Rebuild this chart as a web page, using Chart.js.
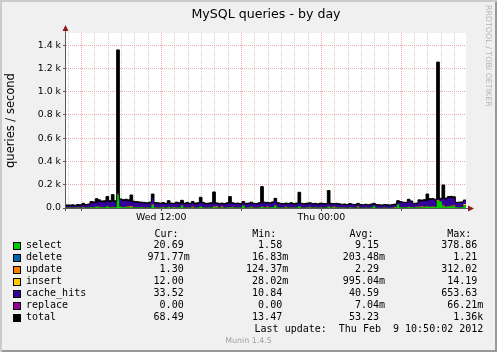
<!DOCTYPE html>
<html><head><meta charset="utf-8">
<script src="https://cdn.jsdelivr.net/npm/chart.js@4.4.1/dist/chart.umd.min.js"></script>
<style>
html,body{margin:0;padding:0;background:#f0f0f0;}
#wrap{position:relative;width:497px;height:352px;background:#f0f0f0;box-shadow:inset 2px 2px 0 #cbcbcb, inset -2px -2px 0 #999999;overflow:hidden;}
#c{position:absolute;left:0;top:0;}
.t{position:absolute;font-family:"DejaVu Sans Mono",monospace;font-size:10px;line-height:12px;white-space:pre;color:#000;}
.sq{position:absolute;width:8px;height:8px;box-sizing:border-box;border:1px solid #000;}
.rrd{position:absolute;left:482.5px;top:5px;font-family:"DejaVu Sans",sans-serif;font-size:7.9px;line-height:10px;color:#b4b4b4;writing-mode:vertical-rl;white-space:nowrap;}
.munin{position:absolute;left:0;width:497px;top:335.9px;text-align:center;font-family:"DejaVu Sans",sans-serif;font-size:7.9px;line-height:10px;color:#a0a0a0;}
</style>
</head><body>
<div id="wrap">
<canvas id="c" width="497" height="352"></canvas>
<div class="rrd">RRDTOOL / TOBI OETIKER</div>
<div class="munin">Munin 1.4.5</div>
</div>
<script>
// ---- data (hours since Wed 00:00, 12-minute samples) ----
const firstSampleHour = 4.85;
const sampleStepHours = 0.2;

const totalQ = [26,25,27,24,30,28,40,30,34,55,
 52,80,70,60,62,98,63,115,62,1360,
 78,72,75,70,112,58,55,52,50,48,
 45,50,120,48,45,42,46,40,63,42,
 40,50,45,66,42,48,40,55,42,45,
 92,48,40,42,45,138,44,40,42,38,
 45,98,45,40,42,38,55,40,42,50,
 40,38,45,184,50,48,45,52,83,45,
 40,38,42,40,45,38,42,135,40,38,
 42,45,38,40,36,42,40,38,150,40,
 38,40,36,32,34,30,38,32,30,40,
 30,28,32,28,34,40,30,28,26,30,
 28,26,30,34,63,55,50,48,75,60,
 40,42,70,68,72,120,80,82,75,1255,
 83,198,85,98,100,96,49,50,52,68.49];

const selectQ = [3,2,3,2,4,3,5,3,4,6,
 5,8,6,5,6,12,5,7,6,115,
 10,6,8,5,9,4,5,4,6,3,
 4,3,26,4,3,5,4,3,8,4,
 3,5,4,18,3,4,3,5,3,4,
 12,4,3,4,3,10,4,3,5,3,
 4,6,4,3,4,3,22,3,4,5,
 3,3,4,8,4,5,4,6,20,4,
 3,3,4,3,4,3,4,12,3,3,
 4,5,3,4,3,4,3,3,10,4,
 3,4,3,2,3,2,4,3,2,5,
 2,2,3,2,3,15,2,2,2,3,
 2,2,3,3,30,6,5,4,8,6,
 4,4,7,6,8,12,8,9,8,60,
 55,12,10,12,14,12,6,5,6,20.69];

const deleteQ = [0.1,0.1,0.1,0.1,0.2,0.1,0.2,0.1,0.2,0.3,
 0.3,0.4,0.3,0.3,0.3,0.4,0.3,0.3,0.3,1.2,
 0.3,0.2,0.3,0.2,0.3,0.2,0.2,0.2,0.2,0.2,
 0.2,0.2,0.3,0.2,0.2,0.2,0.2,0.2,0.2,0.2,
 0.2,0.2,0.2,0.2,0.2,0.2,0.2,0.2,0.2,0.2,
 0.2,0.2,0.2,0.2,0.2,0.2,0.2,0.2,0.2,0.2,
 0.2,0.2,0.2,0.2,0.2,0.2,0.2,0.2,0.2,0.2,
 0.2,0.2,0.2,0.2,0.2,0.2,0.2,0.2,0.2,0.2,
 0.2,0.2,0.2,0.2,0.2,0.2,0.2,0.2,0.2,0.2,
 0.2,0.2,0.2,0.2,0.2,0.2,0.2,0.2,0.2,0.2,
 0.2,0.2,0.2,0.2,0.2,0.2,0.2,0.2,0.2,0.2,
 0.2,0.2,0.2,0.2,0.2,0.2,0.2,0.2,0.2,0.2,
 0.2,0.2,0.2,0.2,0.2,0.2,0.2,0.2,0.2,0.2,
 0.2,0.2,0.2,0.2,0.2,0.2,0.2,0.2,0.2,0.3,
 0.3,0.3,0.2,0.2,0.2,0.2,0.2,0.2,0.2,0.97];

const updateQ = [1.2,1.0,1.4,1.1,1.6,1.3,2.0,1.5,1.8,2.5,
 2.2,3.0,2.6,2.1,2.4,3.5,2.2,2.8,2.0,4.0,
 2.5,2.0,2.4,8.0,2.6,1.8,1.6,1.5,1.4,1.3,
 1.2,1.4,3.0,1.3,1.2,1.4,6.0,1.1,1.8,1.2,
 1.1,1.5,1.3,2.0,1.2,1.4,1.1,8.0,1.2,1.3,
 2.4,1.3,1.1,1.2,1.3,2.6,10.0,1.1,1.2,1.0,
 1.3,2.2,6.0,1.1,1.2,1.0,1.8,1.1,1.2,1.4,
 1.1,1.0,1.3,3.0,1.4,8.0,1.3,1.5,2.4,1.3,
 1.1,1.0,1.2,1.1,1.3,1.0,1.2,2.8,1.1,1.0,
 1.2,6.0,1.0,1.1,0.9,1.2,1.1,1.0,3.0,1.1,
 1.0,1.1,0.9,0.8,0.9,0.7,1.0,0.8,0.7,8.0,
 0.7,0.6,0.8,0.6,0.9,1.2,0.7,0.6,0.5,0.7,
 0.6,0.5,0.7,6.0,2.0,1.8,1.5,1.4,2.2,1.8,
 1.2,1.3,2.0,8.0,2.2,3.0,2.4,2.5,2.2,5.0,
 2.5,4.0,2.6,3.0,3.1,10.0,1.4,1.5,1.6,1.30];

const insertQ = [0.3,0.2,0.3,0.2,0.4,0.3,0.5,0.4,0.4,0.8,
 0.7,1.2,1.0,0.8,0.9,1.5,0.8,1.1,0.8,2.0,
 1.0,0.8,0.9,1.0,6.0,0.7,0.6,0.6,0.5,0.5,
 0.4,0.5,1.5,0.5,0.4,0.5,0.6,0.4,0.7,0.4,
 5.0,0.5,0.4,0.8,0.4,0.5,0.4,0.7,0.4,0.5,
 1.0,0.5,0.4,0.4,0.5,1.2,0.5,0.4,6.0,0.4,
 0.5,0.9,0.5,0.4,0.4,0.4,0.7,0.4,0.4,5.0,
 0.4,0.4,0.5,1.5,0.5,0.6,0.5,0.6,1.0,0.5,
 0.4,0.4,5.0,0.4,0.5,0.4,0.4,1.2,0.4,0.4,
 0.4,0.6,0.4,0.4,0.3,0.4,0.4,0.4,1.4,0.4,
 6.0,0.4,0.3,0.3,0.3,0.2,0.4,0.3,0.2,0.4,
 0.2,0.2,0.3,0.2,0.3,0.4,0.2,0.2,0.2,0.3,
 0.2,0.2,0.3,0.3,1.0,0.7,0.6,0.5,0.9,0.7,
 0.4,5.0,0.8,0.7,0.9,1.5,1.0,1.0,0.9,2.5,
 1.1,6.0,1.0,1.2,1.2,1.3,0.6,0.6,0.7,12.00];

const cacheHitsQ = [12.4,14.7,13.2,13.6,13.8,15.3,17.3,17.0,19.6,30.4,
 33.8,32.4,45.1,41.8,38.4,37.6,43.7,43.8,42.9,4.8,
 56.2,51.0,50.4,43.8,37.1,38.3,36.6,35.7,31.9,33.0,
 30.2,34.9,52.2,32.0,31.2,26.9,25.2,27.3,29.3,28.2,
 22.7,30.8,29.1,19.0,28.2,29.9,27.3,26.1,28.2,29.0,
 29.4,32.0,27.3,27.2,30.0,26.0,20.3,27.3,21.6,25.4,
 30.0,30.7,25.3,27.3,28.2,25.4,20.3,27.3,28.2,28.4,
 27.3,25.4,30.0,32.3,33.9,24.2,30.0,33.7,36.4,30.0,
 27.3,25.4,22.6,27.3,30.0,25.4,27.2,23.8,27.3,25.4,
 27.2,24.2,25.4,26.3,24.6,27.2,27.3,25.4,23.4,26.3,
 19.8,26.3,24.6,22.7,22.6,20.9,24.4,21.7,20.9,16.4,
 20.9,19.0,20.7,19.0,22.6,13.2,20.9,19.0,18.1,19.8,
 19.0,18.1,19.8,17.5,11.8,39.3,36.7,35.9,48.7,41.3,
 28.2,24.5,45.0,43.1,48.7,45.3,56.4,57.3,53.7,12.2,
 13.1,57.7,61.1,68.5,69.4,60.4,33.8,36.7,36.5,33.52];

const replaceQ = [0,0,0,0,0,0,0,0,0,0,
 0,0,0,0,0,0,0,0,0,0.07,
 0,0,0,0,0,0,0,0,0,0,
 0,0,0.05,0,0,0,0,0,0,0,
 0,0,0,0,0,0,0,0,0,0,
 0,0,0,0,0,0.05,0,0,0,0,
 0,0,0,0,0,0,0,0,0,0,
 0,0,0,0.06,0,0,0,0,0,0,
 0,0,0,0,0,0,0,0.05,0,0,
 0,0,0,0,0,0,0,0,0.06,0,
 0,0,0,0,0,0,0,0,0,0,
 0,0,0,0,0,0,0,0,0,0,
 0,0,0,0,0,0,0,0,0,0,
 0,0,0,0,0,0,0,0,0,0.05,
 0,0.06,0,0,0,0,0,0,0,0];

// legend table
const seriesNames  = ['select','delete','update','insert','cache_hits','replace','total'];
const seriesColors = ['#00cc00','#0066b3','#ff8000','#ffcc00','#330099','#990099','#000000'];
const curVals = ['20.69 ','971.77m','1.30 ','12.00 ','33.52 ','0.00 ','68.49 '];
const minVals = ['1.58 ','16.83m','124.37m','28.02m','10.84 ','0.00 ','13.47 '];
const avgVals = ['9.15 ','203.48m','2.29 ','995.04m','40.59 ','7.04m','53.23 '];
const maxVals = ['378.86 ','1.21 ','312.02 ','14.19 ','653.63 ','66.21m','1.36k'];
const colHeaders = ['Cur:','Min:','Avg:','Max:'];
const lastUpdate = 'Last update:  Thu Feb  9 10:50:02 2012';

// axis ticks / labels
const yTickValues = [0,100,200,300,400,500,600,700,800,900,1000,1100,1200,1300,1400,1500];
const yTickLabels = ['0.0','','0.2 k','','0.4 k','','0.6 k','','0.8 k','','1.0 k','','1.2 k','','1.4 k',''];
const xLabelHours = [12,24];
const xLabelTexts = ['Wed 12:00','Thu 00:00'];

// ---- build ----
const times = [];
for (let i = 0; i <= totalQ.length; i++) times.push(+(firstSampleHour + i * sampleStepHours).toFixed(3));
function pts(arr){
  const out = arr.map((v,i)=>({x:times[i], y:v}));
  out.push({x:times[arr.length], y:arr[arr.length-1]});
  return out;
}
const xMin = times[0], xMax = times[times.length-1];
const gridHours = [];
for (let h = Math.ceil(xMin); h <= Math.floor(xMax); h++) gridHours.push(h);

const MINOR = '#cccccc', MAJOR = '#e8aaaa';
const compSeries = [selectQ, deleteQ, updateQ, insertQ, cacheHitsQ, replaceQ];
const datasets = [{
  label:'total', data:pts(totalQ), stack:'total', fill:'origin',
  backgroundColor:seriesColors[6], borderColor:seriesColors[6], borderWidth:1,
  pointRadius:0, stepped:true, order:1
}];
compSeries.forEach((arr,k)=>{
  datasets.push({label:seriesNames[k], data:pts(arr), stack:'q', fill: k===0?'origin':'-1',
    backgroundColor:seriesColors[k], borderWidth:0, pointRadius:0, stepped:true, order:0});
});

const axisPlugin = {
  id:'rrdAxes',
  beforeDraw(chart){
    const {ctx, chartArea:a} = chart;
    ctx.save(); ctx.fillStyle='#ffffff';
    ctx.fillRect(a.left, a.top, a.right-a.left, a.bottom-a.top);
    ctx.restore();
  },
  afterDraw(chart){
    const {ctx, chartArea:a} = chart;
    const ax = a.left - 0.5, ay = a.bottom + 0.5;
    ctx.save();
    ctx.strokeStyle = '#5a5a5a'; ctx.lineWidth = 1;
    ctx.beginPath();
    ctx.moveTo(ax, a.bottom + 3); ctx.lineTo(ax, a.top - 3);
    ctx.moveTo(a.left - 3, ay); ctx.lineTo(a.right + 3, ay);
    ctx.stroke();
    ctx.fillStyle = '#8b1a1a';
    ctx.beginPath();
    ctx.moveTo(ax, a.top - 8); ctx.lineTo(ax - 3, a.top - 2); ctx.lineTo(ax + 3, a.top - 2); ctx.closePath(); ctx.fill();
    ctx.beginPath();
    ctx.moveTo(a.right + 8, ay); ctx.lineTo(a.right + 2, ay - 3); ctx.lineTo(a.right + 2, ay + 3); ctx.closePath(); ctx.fill();
    ctx.restore();
  }
};

const tickFont = {family:'DejaVu Sans', size:9.4};
new Chart(document.getElementById('c'), {
  type:'line',
  data:{datasets},
  options:{
    responsive:false, animation:false, devicePixelRatio:1,
    layout:{padding:{left:0, right:31, top:0, bottom:124}},
    elements:{line:{tension:0}},
    plugins:{
      legend:{display:false}, tooltip:{enabled:false},
      filler:{drawTime:'beforeDatasetsDraw'},
      title:{display:true, fullSize:false, text:'MySQL queries - by day', color:'#000',
        font:{family:'DejaVu Sans', size:12.6, weight:'normal'}, padding:{top:7, bottom:10.9}}
    },
    scales:{
      x:{type:'linear', min:xMin, max:xMax,
        afterBuildTicks:(s)=>{ s.ticks = gridHours.map(h=>({value:h})); },
        afterFit:(s)=>{ s.height = 20; },
        grid:{color:(c)=> (c.tick && c.tick.value % 6 === 0) ? MAJOR : MINOR, lineWidth:1,
          drawTicks:true, tickLength:3, tickColor:(c)=> (c.tick && c.tick.value % 6 === 0) ? '#5a5a5a' : 'rgba(0,0,0,0)'},
        border:{display:false, dash:[1,1]},
        ticks:{autoSkip:false, maxRotation:0, minRotation:0, padding:1, color:'#000', font:tickFont,
          callback:(v)=>{ const k = xLabelHours.indexOf(v); return k>=0 ? xLabelTexts[k] : ''; }}
      },
      y:{type:'linear', stacked:true, min:0, max:1505,
        afterBuildTicks:(s)=>{ s.ticks = yTickValues.map(v=>({value:v})); },
        afterFit:(s)=>{ s.width = 66; },
        grid:{color:(c)=> (c.tick && c.tick.value % 200 === 0) ? MAJOR : MINOR, lineWidth:1,
          drawTicks:true, tickLength:3, tickColor:(c)=> (c.tick && c.tick.value % 200 === 0) ? '#5a5a5a' : 'rgba(0,0,0,0)'},
        border:{display:false, dash:[1,1]},
        title:{display:true, text:'queries / second', color:'#000', font:{family:'DejaVu Sans', size:11.5}, padding:{top:4, bottom:0}},
        ticks:{padding:2, color:'#000', font:tickFont,
          callback:(v)=>{ const k = yTickValues.indexOf(v); return k>=0 ? yTickLabels[k] : ''; }}
      }
    }
  },
  plugins:[axisPlugin]
});

// ---- legend (real text) ----
const wrap = document.getElementById('wrap');
function addDiv(cls, text, style){
  const d = document.createElement('div'); d.className = cls;
  if (text !== null) d.textContent = text;
  Object.assign(d.style, style); wrap.appendChild(d); return d;
}
const headerLefts = [154.5, 252.2, 349.5, 447.2];
const colRights = [189.7, 288.2, 385, 483.3];
colHeaders.forEach((h,i)=> addDiv('t', h, {left:headerLefts[i]+'px', top:'227.5px'}));
const cols = [curVals, minVals, avgVals, maxVals];
seriesNames.forEach((n,k)=>{
  const top = 238.5 + 12*k;
  addDiv('sq', null, {left:'13px', top:(top+3)+'px', background:seriesColors[k]});
  addDiv('t', n, {left:'26px', top:top+'px'});
  cols.forEach((col,c)=> addDiv('t', col[k], {right:(497-colRights[c])+'px', top:top+'px'}));
});
addDiv('t', lastUpdate, {right:(497-483.3)+'px', top:'322.5px'});
</script>
</body></html>
